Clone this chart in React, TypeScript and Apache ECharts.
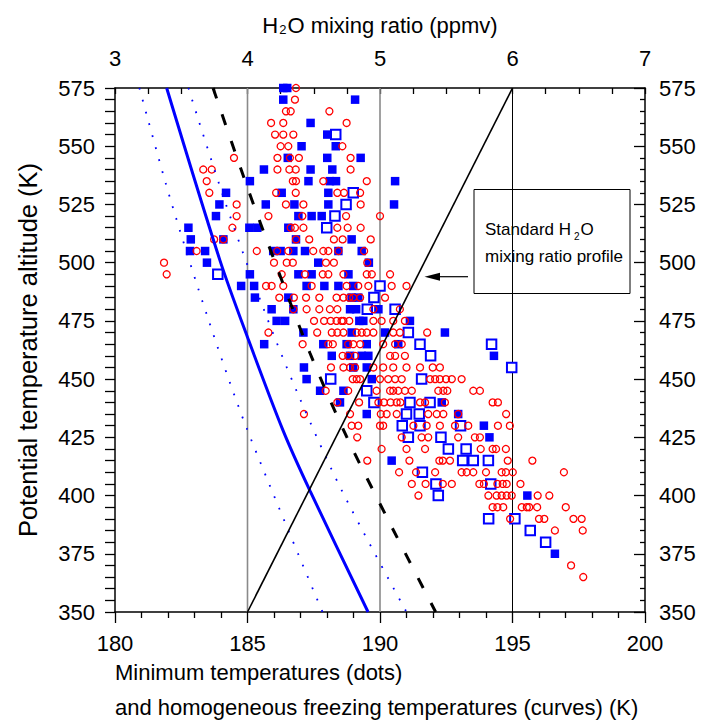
import React, { useEffect, useRef } from "react";
import * as echarts from "echarts";

const FONT = "'Liberation Sans', Arial, Helvetica, sans-serif";

// Minimum temperatures (K) observed at each potential temperature level (K)
const minTempCircles: [number, number[]][] = [
  [575, [186.83]],
  [570, [186.79]],
  [565, [186.45, 186.63, 188.09]],
  [560, [185.89, 186.35, 188.74]],
  [555, [186.04, 186.35, 186.73]],
  [550, [186.25, 186.54, 188.58]],
  [545, [184.49, 186.13, 186.6, 186.94, 188.89]],
  [540, [183.33, 183.65, 186.13, 186.58, 186.82, 188.89]],
  [535, [183.46, 186.71, 186.83, 187.86, 189.5]],
  [530, [183.56, 186.08, 186.82, 188.39, 188.64, 189.25]],
  [525, [184.59, 186.45, 187.11, 189.27]],
  [520, [184.59, 185.79, 187.07, 188.72, 190.0]],
  [515, [184.43, 186.63, 186.79, 187.11, 188.39, 188.78, 189.27]],
  [510, [183.74, 184.09, 186.83, 187.33, 188.26, 188.59, 189.65]],
  [505, [183.08, 185.35, 186.12, 186.54, 187.48, 187.86, 188.05, 188.43, 189.4]],
  [500, [181.85, 186.0, 186.48, 186.71, 187.96, 188.26, 189.52]],
  [495, [181.95, 186.29, 187.17, 187.84, 188.05, 188.62, 189.5, 189.69, 190.38]],
  [490, [185.7, 185.91, 186.35, 187.42, 188.74, 189.18, 189.56, 190.44, 191.0]],
  [485, [186.2, 186.75, 187.21, 187.71, 188.36, 188.62, 188.84, 188.99, 189.25, 190.19]],
  [480, [186.73, 187.23, 187.71, 188.11, 188.39, 189.75, 190.75]],
  [475, [187.51, 187.89, 188.14, 188.36, 188.55, 188.62, 188.84, 189.75, 190.06, 190.5, 190.94]],
  [470, [185.79, 187.63, 188.18, 188.39, 188.62, 189.12, 189.31, 189.5, 189.75, 190.5, 190.75, 191.78]],
  [465, [187.08, 188.05, 188.22, 188.8, 188.99, 189.25, 190.12, 190.57, 190.82]],
  [460, [188.59, 188.8, 189.06, 190.38, 190.57, 190.94]],
  [455, [188.15, 188.62, 188.87, 189.06, 189.75, 190.12, 190.5, 191.0, 191.51, 191.99, 192.26]],
  [450, [188.97, 189.12, 189.25, 190.0, 190.31, 190.57, 190.82, 191.89, 192.08, 192.26, 192.49, 192.71, 193.08]],
  [445, [187.95, 188.8, 189.87, 190.38, 190.5, 190.69, 190.94, 191.2, 192.2, 192.39, 192.54, 193.52, 193.77]],
  [440, [188.39, 189.21, 189.94, 190.15, 190.4, 190.63, 190.77, 191.51, 191.7, 192.45, 194.25, 194.45]],
  [435, [187.13, 188.87, 190.03, 190.25, 190.63, 191.82, 192.14, 192.39, 192.95, 194.76]],
  [430, [188.93, 189.18, 190.0, 190.12, 191.26, 191.76, 192.26, 192.83, 193.33, 194.45, 194.9]],
  [425, [189.14, 190.82, 191.57, 191.82, 192.95, 193.58, 193.77]],
  [420, [190.06, 191.0, 191.7, 193.8, 194.25, 194.38, 194.75]],
  [415, [189.52, 191.11, 192.24, 192.37, 192.64, 194.82, 195.75]],
  [410, [190.72, 191.36, 192.08, 193.08, 193.27, 193.52, 194.0, 194.59, 194.75, 195.01, 196.94]],
  [405, [191.2, 191.72, 192.37, 192.71, 193.75, 193.92, 194.43, 194.63, 194.78, 195.3]],
  [400, [191.45, 194.09, 194.4, 194.59, 194.78, 194.97, 195.95, 196.39]],
  [395, [194.25, 194.43, 194.65, 195.35, 195.54, 195.63, 195.93, 197.01]],
  [390, [194.91, 196.0, 196.2, 197.3, 197.61]],
  [385, [196.6, 197.65]],
  [370, [197.21]],
  [365, [197.67]],
];

const minTempFilled: [number, number[]][] = [
  [575, [186.35, 186.5]],
  [570, [186.35, 189.06]],
  [560, [187.38]],
  [555, [188.01]],
  [550, [187.04, 188.33]],
  [545, [186.52, 188.01, 189.27]],
  [540, [185.62, 187.38, 188.2]],
  [535, [185.09, 187.3, 188.11, 188.34, 190.57]],
  [530, [184.19, 186.29, 188.05]],
  [525, [183.94, 185.69, 186.77, 188.05, 190.53]],
  [520, [183.81, 186.92, 187.42, 187.8]],
  [515, [182.77, 185.07, 185.37, 186.54]],
  [510, [182.86, 184.09, 186.83, 188.93]],
  [505, [182.83, 183.4, 185.97, 186.25, 186.73, 187.17, 188.43, 189.31]],
  [500, [183.47, 187.67, 189.58]],
  [495, [185.09, 186.92, 187.42, 188.81]],
  [490, [184.76, 185.25, 187.23, 187.9, 188.43, 188.99]],
  [485, [185.28, 186.54, 188.93, 189.18]],
  [480, [185.91, 186.73, 188.87, 189.1, 189.94]],
  [475, [186.1, 186.42, 189.22, 189.37, 191.13]],
  [470, [187.11, 188.93, 190.19, 192.45]],
  [465, [185.63, 187.86, 188.74, 189.5, 190.69]],
  [460, [188.18, 188.87, 189.31, 189.56, 194.3]],
  [455, [187.13, 188.99, 189.5]],
  [450, [187.23, 189.69]],
  [445, [187.74, 188.62]],
  [440, [188.49, 192.33]],
  [435, [189.5, 192.95]],
  [430, [193.92]],
  [425, [194.13]],
  [415, [190.44]],
  [400, [195.56]],
  [375, [196.6]],
];

const minTempOpen: [number, number[]][] = [
  [555, [188.33]],
  [530, [188.99]],
  [525, [188.72]],
  [520, [188.3]],
  [515, [187.99]],
  [495, [183.88]],
  [490, [190.0]],
  [485, [189.77]],
  [480, [189.52, 190.57]],
  [470, [191.07]],
  [465, [191.51, 194.21]],
  [460, [191.91]],
  [455, [194.97]],
  [450, [188.14, 191.57]],
  [445, [189.5]],
  [440, [189.77, 191.13, 191.89]],
  [435, [191.0, 191.48]],
  [430, [190.84, 191.51, 193.04]],
  [425, [191.07, 192.3]],
  [420, [192.58, 193.25]],
  [415, [193.12, 193.52, 194.09]],
  [410, [191.6]],
  [405, [192.11, 194.18]],
  [400, [192.2]],
  [390, [194.1, 195.09]],
  [385, [195.67]],
  [380, [196.25]],
];

// Homogeneous freezing temperature curves: [temperature K, potential temperature K]
const freezeSolid = [[181.95, 575], [183.96, 501], [185.0, 468], [186.34, 428], [187.36, 402], [189.55, 350]];
const freezeDotLow = [[180.92, 575], [182.08, 527.6], [183.52, 475.7], [184.97, 428.9], [187.83, 350]];
const freezeDotHigh = [[182.77, 575], [184.11, 527.6], [185.6, 480.4], [186.88, 444.2], [188.53, 402.8], [191.0, 350]];
const freezeDashed = [[183.7, 575], [184.94, 534.1], [186.1, 498.3], [187.36, 461.1], [188.74, 425.3], [190.31, 389.5], [192.1, 350]];

// Standard H2O mixing ratio profile: [ppmv, potential temperature K]
const standardProfile = [[4, 350], [6, 575]];

// Reference temperatures marked with vertical lines
const grayGuides = [185, 190];
const blackGuides = [195];

const thetaRange = [350, 575];

function flatten(rows: [number, number[]][]) {
  const out: number[][] = [];
  rows.forEach(([theta, temps]) => temps.forEach((t) => out.push([t, theta])));
  return out;
}

export default function App() {
  const ref = useRef<HTMLDivElement>(null);

  useEffect(() => {
    if (!ref.current) return;
    const chart = echarts.init(ref.current, undefined, { renderer: "svg" });

    const axisLineStyle = { color: "#000", width: 1.5 };
    const tickStyle = { color: "#000", width: 1.3 };
    const labelStyle = { fontSize: 22, color: "#000", fontFamily: FONT };

    const guideSeries = [
      ...grayGuides.map((t) => ({
        type: "line",
        data: thetaRange.map((th) => [t, th]),
        symbol: "none",
        silent: true,
        z: 1,
        lineStyle: { color: "#8a8a8a", width: 1.6 },
      })),
      ...blackGuides.map((t) => ({
        type: "line",
        data: thetaRange.map((th) => [t, th]),
        symbol: "none",
        silent: true,
        z: 1,
        lineStyle: { color: "#000", width: 1 },
      })),
    ];

    const option: any = {
      animation: false,
      grid: { left: 115, right: 59, top: 88, bottom: 109, containLabel: false },
      xAxis: [
        {
          type: "value",
          position: "bottom",
          min: 180,
          max: 200,
          interval: 5,
          axisLine: { show: true, onZero: false, lineStyle: axisLineStyle },
          axisTick: { show: true, inside: false, length: 11, lineStyle: tickStyle },
          minorTick: { show: true, splitNumber: 5, length: 6, lineStyle: tickStyle },
          axisLabel: { ...labelStyle, margin: 20 },
          splitLine: { show: false },
        },
        {
          type: "value",
          position: "top",
          min: 3,
          max: 7,
          interval: 1,
          name: "H{sub|2}O mixing ratio (ppmv)",
          nameLocation: "middle",
          nameGap: 52,
          nameTextStyle: {
            fontSize: 22,
            color: "#000",
            fontFamily: FONT,
            rich: {
              sub: { fontSize: 13, fontFamily: FONT, color: "#000", verticalAlign: "bottom", lineHeight: 10, padding: [0, 1, 0, 1] },
            },
          },
          axisLine: { show: true, onZero: false, lineStyle: axisLineStyle },
          axisTick: { show: true, inside: true, length: 6, lineStyle: tickStyle },
          minorTick: { show: true, splitNumber: 4, length: 6, lineStyle: tickStyle },
          axisLabel: { ...labelStyle, margin: 19 },
          splitLine: { show: false },
        },
      ],
      yAxis: [
        {
          type: "value",
          position: "left",
          min: 350,
          max: 575,
          interval: 25,
          name: "Potential temperature altitude (K)",
          nameLocation: "middle",
          nameRotate: 90,
          nameGap: 74,
          nameTextStyle: { fontSize: 25.5, color: "#000", fontFamily: FONT },
          axisLine: { show: true, onZero: false, lineStyle: axisLineStyle },
          axisTick: { show: true, inside: false, length: 10, lineStyle: tickStyle },
          minorTick: { show: true, splitNumber: 5, length: 10, lineStyle: tickStyle },
          axisLabel: { ...labelStyle, margin: 20 },
          splitLine: { show: false },
        },
        {
          type: "value",
          position: "right",
          min: 350,
          max: 575,
          interval: 25,
          axisLine: { show: true, onZero: false, lineStyle: axisLineStyle },
          axisTick: { show: true, inside: true, length: 11, lineStyle: tickStyle },
          minorTick: { show: true, splitNumber: 5, length: 5, lineStyle: tickStyle },
          axisLabel: { ...labelStyle, margin: 14 },
          splitLine: { show: false },
        },
      ],
      series: [
        ...guideSeries,
        {
          type: "scatter",
          data: flatten(minTempFilled),
          symbol: "rect",
          symbolSize: 8.5,
          z: 3,
          itemStyle: { color: "#0000ff", opacity: 1 },
        },
        {
          type: "scatter",
          data: flatten(minTempOpen),
          symbol: "rect",
          symbolSize: 9.5,
          z: 4,
          itemStyle: { color: "#ffffff", borderColor: "#0000ff", borderWidth: 2, opacity: 1 },
        },
        {
          type: "scatter",
          data: flatten(minTempCircles),
          symbol: "circle",
          symbolSize: 7,
          z: 5,
          itemStyle: { color: "rgba(0,0,0,0)", borderColor: "#ff0000", borderWidth: 1.3, opacity: 1 },
        },
        {
          type: "line",
          data: freezeSolid,
          smooth: 0.3,
          symbol: "none",
          z: 6,
          lineStyle: { color: "#0000ff", width: 3 },
        },
        {
          type: "line",
          data: freezeDotLow,
          smooth: 0.3,
          symbol: "none",
          z: 6,
          lineStyle: { color: "#0000ff", width: 1.8, type: [1.8, 10.5] },
        },
        {
          type: "line",
          data: freezeDotHigh,
          smooth: 0.3,
          symbol: "none",
          z: 6,
          lineStyle: { color: "#0000ff", width: 1.8, type: [1.8, 10.5] },
        },
        {
          type: "line",
          data: freezeDashed,
          smooth: 0.3,
          symbol: "none",
          z: 6,
          lineStyle: { color: "#000", width: 3, type: [11, 17] },
        },
        {
          type: "line",
          xAxisIndex: 1,
          data: standardProfile,
          symbol: "none",
          z: 6,
          lineStyle: { color: "#000", width: 1.6 },
        },
      ],
      graphic: [
        {
          type: "group",
          z: 100,
          children: [
            {
              type: "rect",
              shape: { x: 474, y: 189.5, width: 156, height: 104 },
              style: { fill: "#fff", stroke: "#000", lineWidth: 1 },
            },
            {
              type: "text",
              style: {
                x: 485,
                y: 229,
                text: "{a|Standard H}{s|2}{a|O}",
                verticalAlign: "middle",
                rich: {
                  a: { fontSize: 17, fontFamily: FONT, fill: "#000", lineHeight: 24 },
                  s: { fontSize: 10, fontFamily: FONT, fill: "#000", lineHeight: 10, verticalAlign: "bottom", padding: [0, 1, 0, 3] },
                },
              },
            },
            {
              type: "text",
              style: {
                x: 485,
                y: 256,
                text: "mixing ratio profile",
                fontSize: 17,
                fontFamily: FONT,
                fill: "#000",
                verticalAlign: "middle",
              },
            },
            {
              type: "line",
              shape: { x1: 439, y1: 276.7, x2: 468, y2: 276.7 },
              style: { stroke: "#000", lineWidth: 1.2 },
            },
            {
              type: "polygon",
              shape: { points: [[424.5, 276.7], [440, 272.7], [440, 280.7]] },
              style: { fill: "#000" },
            },
          ],
        },
        {
          type: "text",
          style: {
            x: 115,
            y: 672,
            text: "Minimum temperatures (dots)",
            fontSize: 22,
            fontFamily: FONT,
            fill: "#000",
            verticalAlign: "middle",
          },
        },
        {
          type: "text",
          style: {
            x: 115,
            y: 707,
            text: "and homogeneous freezing temperatures (curves) (K)",
            fontSize: 22,
            fontFamily: FONT,
            fill: "#000",
            verticalAlign: "middle",
          },
        },
      ],
    };

    chart.setOption(option);
    return () => chart.dispose();
  }, []);

  return (
    <div
      ref={ref}
      style={{ position: "fixed", left: 0, top: 0, width: 704, height: 721, background: "#fff" }}
    />
  );
}
